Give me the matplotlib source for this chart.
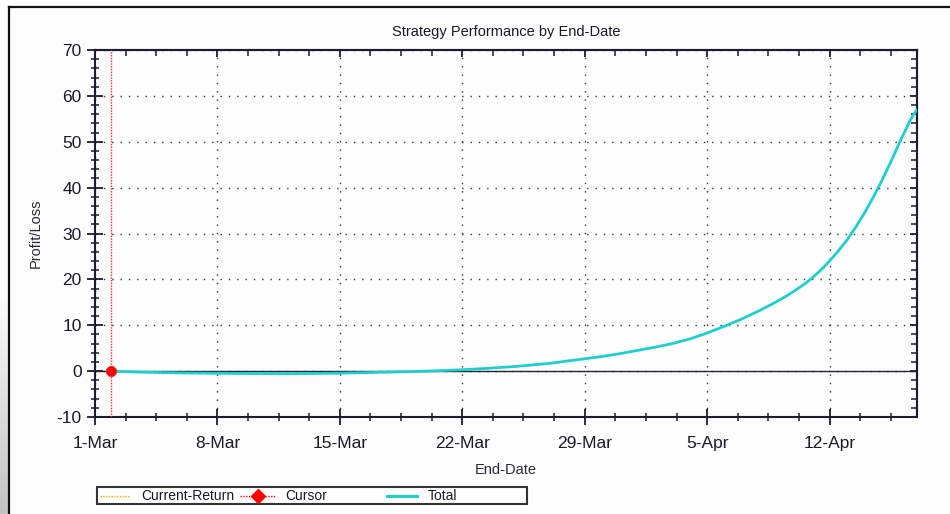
import numpy as np
import matplotlib
matplotlib.use('Agg')
import matplotlib.pyplot as plt
import matplotlib.dates as mdates
from matplotlib.lines import Line2D
from matplotlib.patches import Rectangle
import datetime as dt

plt.rcParams['font.family'] = ['Liberation Sans', 'DejaVu Sans']
plt.rcParams['axes.unicode_minus'] = False

# ---- data ----
start = dt.datetime(2010, 3, 1)
end = dt.datetime(2010, 4, 17)
cursor_day = 0.92
days = [0.92, 2, 3, 5, 8, 11, 14, 17, 19, 21, 22, 24, 26, 28, 29, 30, 31, 32, 33, 34,
        35, 36, 37, 38, 39, 39.5, 40, 40.5, 41, 41.5, 42, 42.5, 43, 43.5, 44, 44.5, 45,
        45.5, 46, 46.3, 46.6, 46.8, 47]
total = [0.0, -0.15, -0.25, -0.4, -0.5, -0.55, -0.45, -0.2, 0.0, 0.3, 0.5, 1.0, 1.7, 2.7, 3.2,
         3.8, 4.5, 5.2, 6.0, 7.0, 8.3, 9.8, 11.4, 13.2, 15.2, 16.3, 17.5, 18.8, 20.3, 22.0,
         24.0, 26.2, 28.6, 31.4, 34.5, 37.9, 41.6, 45.6, 49.8, 52.2, 54.6, 55.9, 57.0]
cursor_value = 0.0
tick_labels = ['1-Mar', '8-Mar', '15-Mar', '22-Mar', '29-Mar', '5-Apr', '12-Apr']
tick_offsets = [0, 7, 14, 21, 28, 35, 42]
series_names = ['Current-Return', 'Cursor', 'Total']

x_total = [mdates.date2num(start + dt.timedelta(days=d)) for d in days]
x_cursor = mdates.date2num(start + dt.timedelta(days=cursor_day))
x_ticks = [mdates.date2num(start + dt.timedelta(days=d)) for d in tick_offsets]
x0 = mdates.date2num(start)
x1 = mdates.date2num(end)

W, H = 950, 514
fig = plt.figure(figsize=(W / 100, H / 100), dpi=100, facecolor='#fdfdfd')
ax = fig.add_axes([95 / W, 1 - 417 / H, (917 - 95) / W, (417 - 50) / H])
ax.set_facecolor('#fdfdfd')

dark = '#1c1c30'
cyan = '#1fcfcf'

ax.set_xlim(x0, x1)
ax.set_ylim(-10, 70)

ax.set_xticks(x_ticks)
ax.set_xticklabels(tick_labels)
ax.set_xticks(np.arange(x0, x1 + 0.01, 1.75), minor=True)
ax.set_yticks(np.arange(-10, 71, 10))
ax.set_yticks(np.arange(-10, 71, 2), minor=True)
ax.grid(True, which='major', color='#333344', linestyle=(0, (1, 5)), linewidth=1)

ax.axhline(0, color='#222233', linewidth=1.0, zorder=2)
ax.axvline(x_cursor, color='#ff2a2a', linestyle=(0, (1, 1)), linewidth=1.0, zorder=3)

ax.plot(x_total, total, color=cyan, linewidth=2.0, zorder=4, solid_capstyle='round',
        solid_joinstyle='round')
ax.plot([x_cursor], [cursor_value], marker='8', color='red', markersize=8.5,
        markeredgecolor='#ff2020', markeredgewidth=0.5, zorder=5)

for s in ax.spines.values():
    s.set_color(dark)
    s.set_linewidth(1.5)

ax.tick_params(axis='both', which='major', direction='inout', length=11, width=1.3,
               color=dark, labelsize=12.5, labelcolor='#1a1a28')
ax.tick_params(axis='both', which='minor', direction='inout', length=6, width=1.1, color=dark)
ax.tick_params(axis='x', which='major', pad=8)
ax.tick_params(axis='y', which='major', pad=4)

secx = ax.secondary_xaxis('top')
secx.set_xticks(x_ticks)
secx.set_xticks(np.arange(x0, x1 + 0.01, 1.75), minor=True)
secx.tick_params(which='major', direction='in', length=5, width=1.3, color=dark, labeltop=False)
secx.tick_params(which='minor', direction='in', length=4, width=1.1, color=dark)
secx.spines['top'].set_color(dark)
secx.spines['top'].set_linewidth(1.5)
secy = ax.secondary_yaxis('right')
secy.set_yticks(np.arange(-10, 71, 10))
secy.set_yticks(np.arange(-10, 71, 2), minor=True)
secy.tick_params(which='major', direction='in', length=5, width=1.3, color=dark, labelright=False)
secy.tick_params(which='minor', direction='in', length=4, width=1.1, color=dark)
secy.spines['right'].set_color(dark)
secy.spines['right'].set_linewidth(1.5)
ax.tick_params(axis='x', which='both', top=False)
ax.tick_params(axis='y', which='both', right=False)

ax.set_title('Strategy Performance by End-Date', fontsize=10.5, color='#1a1a28', pad=10)
ax.set_xlabel('End-Date', fontsize=10.5, color='#2a2a38', labelpad=9)
ax.set_ylabel('Profit/Loss', fontsize=10.5, color='#2a2a38', labelpad=10)

# ---- legend drawn in figure pixel coordinates ----
def px(x, y):
    return x / W, 1 - y / H

tf = fig.transFigure
bx0, by0, bx1, by1 = 97, 487, 527, 504
fig.add_artist(Rectangle(px(bx0, by1), (bx1 - bx0) / W, (by1 - by0) / H, transform=tf,
                         facecolor='white', edgecolor='#333333', linewidth=1.5))
ly = (by0 + by1) / 2
slots = [(100, 130, 141), (240, 276, 285), (387, 417, 428)]
styles = [dict(color='orange', linestyle=(0, (1, 1)), linewidth=1),
          dict(color='red', linestyle=(0, (1, 1)), linewidth=1),
          dict(color=cyan, linewidth=2.2)]
for (hx0, hx1, tx), st, name in zip(slots, styles, series_names):
    xa, ya = px(hx0, ly)
    xb, _ = px(hx1, ly)
    fig.add_artist(Line2D([xa, xb], [ya, ya], transform=tf, **st))
    fig.text(tx / W, ya, name, fontsize=10, color='#1a1a28', va='center', ha='left')
xm, ym = px(258, ly)
fig.add_artist(Line2D([xm], [ym], transform=tf, marker='D', color='red', markersize=7,
                      linestyle='none'))

# window frame
fig.add_artist(Line2D([9 / W, 1], [1 - 7 / H, 1 - 7 / H], transform=tf,
                      color='#111111', linewidth=1.6))
fig.add_artist(Line2D([9 / W, 9 / W], [0, 1 - 7 / H], transform=tf,
                      color='#111111', linewidth=1.6))
gax = fig.add_axes([0, 0, 8 / W, 220 / H])
g = np.linspace(0.99, 0.76, 100).reshape(-1, 1, 1) * np.ones((1, 1, 3))
gax.imshow(g, aspect='auto', origin='upper')
gax.axis('off')

fig.savefig('out.png', dpi=100, facecolor=fig.get_facecolor())
